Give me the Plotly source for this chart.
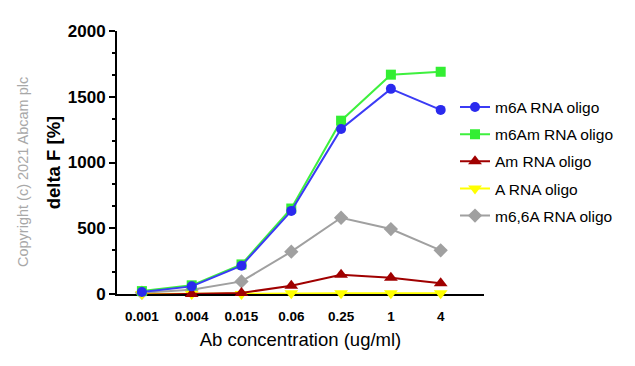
import plotly.graph_objects as go

categories = ["0.001", "0.004", "0.015", "0.06", "0.25", "1", "4"]
m6a = [15, 58, 215, 632, 1255, 1560, 1400]
m6am = [22, 66, 225, 650, 1318, 1668, 1690]
am = [-5, 0, 8, 63, 147, 124, 81]
a_rna = [0, 0, 0, 5, 5, 6, 5]
m66a = [10, 32, 96, 322, 580, 494, 332]

series = [
    ("m6A RNA oligo", m6a, "#3b3bf5", "#2a2aee", "circle", 10, 1),
    ("m6Am RNA oligo", m6am, "#3ef03e", "#33ee33", "square", 10, 2),
    ("Am RNA oligo", am, "#a00000", "#a00000", "triangle-up", 12, 3),
    ("A RNA oligo", a_rna, "#ffff00", "#ffff00", "triangle-down", 12, 4),
    ("m6,6A RNA oligo", m66a, "#a0a0a0", "#a0a0a0", "diamond", 11, 5),
]
draw_order = [4, 3, 2, 1, 0]

fig = go.Figure()
for i in draw_order:
    name, vals, lc, mc, sym, msize, rank = series[i]
    fig.add_trace(go.Scatter(
        x=categories, y=vals, name=name, mode="lines+markers",
        line=dict(color=lc, width=2),
        marker=dict(color=mc, symbol=sym, size=msize),
        legendrank=rank, legendgroup=name, cliponaxis=False,
    ))

fig.update_layout(
    width=635, height=366,
    margin=dict(l=109, r=159, t=23, b=80, autoexpand=False),
    paper_bgcolor="white", plot_bgcolor="white",
    font=dict(family="Liberation Sans, Arial, sans-serif", color="black"),
    showlegend=True,
    legend=dict(x=0.921, y=0.774, xanchor="left", yanchor="top",
                font=dict(size=15.5), traceorder="grouped", tracegroupgap=4,
                bgcolor="rgba(0,0,0,0)"),
    xaxis=dict(
        type="category", range=[-0.5, 6.87],
        showline=True, linecolor="black", linewidth=2, layer="below traces",
        showgrid=False, zeroline=False,
        ticks="outside", ticklen=9, tickcolor="rgba(0,0,0,0)",
        tickfont=dict(size=13.5, weight="bold"),
        title=dict(text="Ab concentration (ug/ml)", font=dict(size=18.5), standoff=10),
    ),
    yaxis=dict(
        range=[0, 2000], tickvals=[0, 500, 1000, 1500, 2000],
        showline=True, linecolor="black", linewidth=2, layer="below traces",
        showgrid=False, zeroline=False,
        ticks="outside", ticklen=6, tickwidth=2, tickcolor="black",
        minor=dict(dtick=500 / 3, tick0=0, ticks="outside", ticklen=3, tickwidth=1.5, tickcolor="black", showgrid=False),
        tickfont=dict(size=17, weight="bold"),
        title=dict(text="delta F [%]", font=dict(size=18.5, weight="bold"), standoff=2),
    ),
    annotations=[dict(
        text="Copyright (c) 2021 Abcam plc", textangle=-90,
        xref="paper", yref="paper", x=-0.256, y=0.464,
        xanchor="center", yanchor="middle", showarrow=False,
        font=dict(size=14.5, color="#a8a8a8"),
    )],
)

fig.write_html("out.html")
